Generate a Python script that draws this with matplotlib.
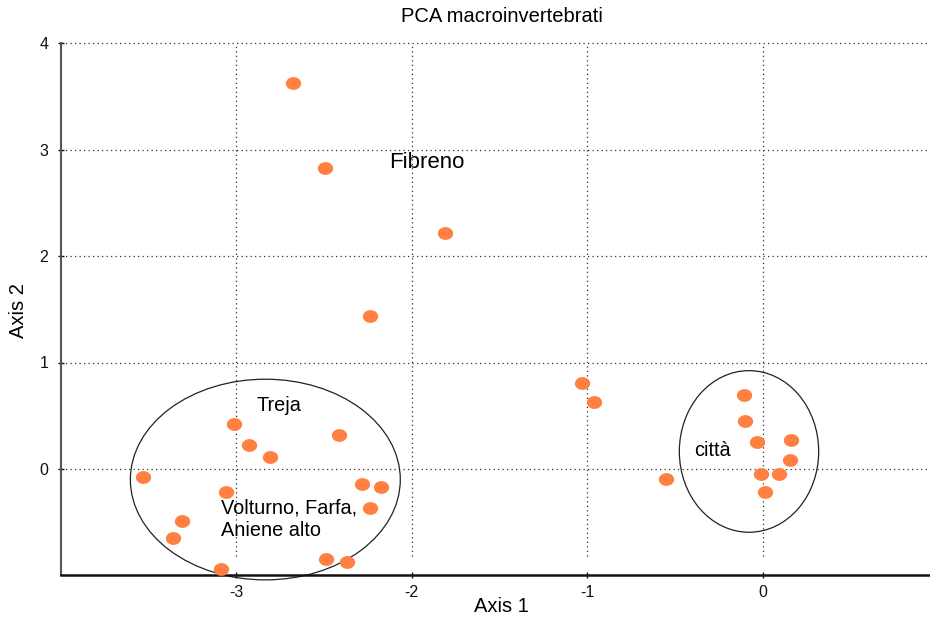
import matplotlib
matplotlib.use("Agg")
import matplotlib.pyplot as plt
from matplotlib.patches import Ellipse
from matplotlib.path import Path
import numpy as np

plt.rcParams['font.family'] = ['Liberation Sans', 'DejaVu Sans']

# PCA scores of the sampling sites (Axis 1, Axis 2)
axis1 = [-2.678, -2.496, -1.812, -2.236,
         -3.014, -2.927, -2.806, -2.416, -3.531, -3.056, -2.285, -2.173,
         -2.236, -3.309, -3.358, -3.088, -2.487, -2.367,
         -1.030, -0.960, -0.549,
         -0.108, -0.101, -0.034, 0.161, 0.156, -0.010, 0.091, 0.013]
axis2 = [3.625, 2.829, 2.221, 1.438,
         0.423, 0.229, 0.116, 0.322, -0.072, -0.216, -0.138, -0.172,
         -0.370, -0.492, -0.645, -0.943, -0.849, -0.874,
         0.805, 0.633, -0.094,
         0.698, 0.448, 0.254, 0.276, 0.081, -0.044, -0.044, -0.219]

x_ticks = [-3, -2, -1, 0]
y_ticks = [0, 1, 2, 3, 4]

# group labels: (text, x, y)
groups = [
    ("Fibreno", -2.131, 2.883),
    ("Treja", -2.887, 0.592),
    ("Volturno, Farfa,\nAniene alto", -3.087, -0.472),
    ("città", -0.390, 0.172),
]
label_size = {"Fibreno": 16.0}

# group envelopes: (centre x, centre y, width, height)
envelopes = [
    (-2.834, -0.100, 1.538, 1.886),
    (-0.078, 0.164, 0.794, 1.519),
]

W, H = 930, 618
fig = plt.figure(figsize=(W / 100, H / 100), dpi=100)
ax = fig.add_axes([60.7 / W, (H - 575.3) / H, 877.5 / W, 532.0 / H])
ax.set_xlim(-4, 1)
ax.set_ylim(-1, 4)

# dotted grid
dot = (0, (1, 2.6))
for yv in y_ticks:
    ax.plot([-4, 1], [yv, yv], color='#333333', lw=0.9, ls=dot, zorder=1, clip_on=False)
for xv in x_ticks:
    ax.plot([xv, xv], [-0.82, 4], color='#333333', lw=0.9, ls=dot, zorder=1)

# slightly flattened dot marker
t = np.linspace(0, 2 * np.pi, 40)
verts = np.column_stack([0.5 * np.cos(t), 0.41 * np.sin(t)])
oval = Path(verts, closed=True)
ax.plot(axis1, axis2, ls='none', marker=oval, ms=10.0, color='#ff8040',
        mec='#ff8040', zorder=3, clip_on=False)

for cx, cy, w, h in envelopes:
    ax.add_patch(Ellipse((cx, cy), w, h, fill=False, ec='#222222', lw=0.9,
                         zorder=2, clip_on=False))

for txt, tx, ty in groups:
    ax.text(tx, ty, txt, ha='left', va='center',
            fontsize=label_size.get(txt, 14.3), color='black',
            linespacing=1.25, zorder=4)

for side in ('top', 'right'):
    ax.spines[side].set_visible(False)
ax.spines['left'].set_color('#555555')
ax.spines['left'].set_linewidth(1.5)
ax.spines['bottom'].set_color('#111111')
ax.spines['bottom'].set_linewidth(1.8)

ax.set_xticks(x_ticks)
ax.set_yticks(y_ticks)
ax.set_xticklabels([str(v) for v in x_ticks])
ax.set_yticklabels([str(v) for v in y_ticks])
ax.tick_params(axis='both', direction='inout', length=4, width=1,
               labelsize=11.5, colors='#111111')
ax.tick_params(axis='x', pad=5)
ax.tick_params(axis='y', pad=7)

fig.text(502 / W, 1 - 16 / H, "PCA macroinvertebrati", ha='center', va='center',
         fontsize=14.5)
fig.text(501 / W, 1 - 607 / H, "Axis 1", ha='center', va='center', fontsize=14.5)
fig.text(19 / W, 1 - 311 / H, "Axis 2", ha='center', va='center', fontsize=14.5,
         rotation=90)

fig.savefig("out.png", dpi=100, facecolor='white')
